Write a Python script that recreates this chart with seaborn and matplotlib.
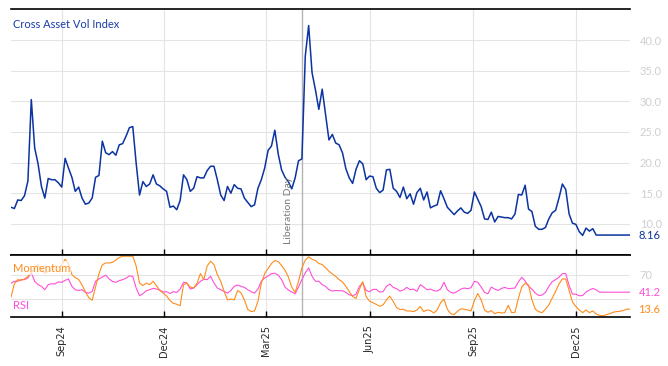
import numpy as np
import pandas as pd
import matplotlib
matplotlib.use("Agg")
import matplotlib.pyplot as plt
import matplotlib.dates as mdates
import seaborn as sns

# ---------------- data (3-day steps) ----------------
start_date = "2024-07-18"
n_points = 184

vol = [12.7, 12.5, 13.9, 13.8, 14.6, 17.0, 30.3, 22.4, 19.8, 16.1,
       14.2, 17.4, 17.2, 17.2, 16.7, 16.0, 20.7, 19.1, 17.6, 15.3,
       16.0, 14.2, 13.2, 13.4, 14.2, 17.6, 17.9, 23.5, 21.6, 21.3,
       21.8, 21.2, 22.9, 23.1, 24.3, 25.7, 25.9, 19.9, 14.7, 16.9,
       16.1, 16.5, 18.0, 16.5, 16.2, 15.7, 15.3, 12.7, 12.9, 12.3,
       13.8, 18.0, 17.2, 15.3, 15.8, 17.7, 17.5, 17.5, 18.7, 19.4,
       19.4, 17.2, 14.7, 13.8, 16.1, 15.0, 16.4, 15.8, 15.7, 14.2,
       13.5, 12.8, 13.1, 15.8, 17.2, 19.1, 22.0, 22.7, 25.3, 21.4,
       18.8, 17.6, 16.9, 15.7, 17.5, 20.3, 20.6, 37.4, 42.4, 34.7,
       31.9, 28.7, 32.0, 27.8, 23.7, 24.6, 23.2, 22.9, 21.6, 19.0,
       17.5, 16.6, 18.9, 20.3, 19.8, 17.2, 17.8, 17.7, 15.8, 15.1,
       15.5, 18.8, 18.9, 15.8, 15.3, 14.3, 16.0, 14.1, 14.9, 13.2,
       15.1, 15.8, 13.9, 15.2, 12.6, 12.9, 13.1, 15.4, 14.1, 12.7,
       12.1, 11.5, 12.1, 12.6, 11.9, 11.7, 12.2, 15.2, 14.0, 12.8,
       10.8, 10.7, 11.9, 10.3, 11.2, 11.1, 11.0, 11.0, 10.8, 11.6,
       14.8, 14.7, 16.3, 12.4, 12.0, 9.6, 9.1, 9.1, 9.4, 10.8,
       11.8, 12.2, 14.2, 16.5, 15.6, 11.6, 10.1, 9.9, 8.7, 8.1,
       9.3, 8.8, 9.2, 8.16, 8.16, 8.16, 8.16, 8.16, 8.16, 8.16,
       8.16, 8.16, 8.16, 8.16]

momentum = [33, 55, 61.7, 60.6, 62.8, 67, 73, 81, 86.5, 78,
            72, 75, 80, 84, 82, 86, 95, 88, 70, 65,
            62, 53, 42, 32, 28, 50, 71, 86, 89, 89,
            90, 93.7, 98, 100, 100, 100, 100, 84, 56, 52,
            56, 53.5, 59, 52, 44, 39.7, 35, 27.6, 23, 21.5,
            19, 53.5, 56, 49.6, 48, 56, 71.6, 61.7, 84, 92,
            86.5, 70, 59, 42.5, 28.7, 30, 28.7, 44, 40, 28.7,
            13, 9.4, 10.5, 26, 56, 71.6, 80, 88, 93, 91,
            85, 77, 66, 49.6, 40.8, 59, 81, 93.7, 99, 95,
            93, 88, 86.5, 81, 75.5, 71, 67, 61.7, 58, 50.7,
            42.5, 34, 31, 46, 58.4, 34, 26.5, 24, 21, 18.2,
            20.4, 28.7, 34.7, 26, 16, 12.7, 13.3, 10.5, 10.5, 9.4,
            12.1, 17.7, 9.4, 12.1, 11, 7.2, 12.1, 24, 29.8, 13.3,
            6, 4.4, 10, 14, 13.3, 12.1, 10.5, 27.6, 39, 28.7,
            12.1, 8.3, 11, 6, 8.3, 7.2, 7.7, 19.9, 7.7, 8.3,
            31.4, 49.6, 55.7, 53, 28.7, 13.3, 9.4, 7.7, 13.3, 20.4,
            31.4, 42.5, 54.6, 62.8, 62.8, 44, 25, 17.7, 12.1, 7.7,
            12.1, 7.7, 10.5, 5.5, 3.3, 2.8, 4.4, 6, 8.3, 9.4,
            10, 11, 13.3, 13.6]

rsi = [56, 59, 59, 61.7, 61.7, 64.5, 72.8, 59, 53.5, 50.7,
       45.2, 53.5, 55, 54.6, 58, 57.3, 60.6, 62.8, 50.7, 45.2,
       44, 45.2, 40.8, 39.7, 42.5, 59, 62.8, 66, 69, 62.8,
       59, 57.3, 60, 61.7, 64, 67.8, 67.2, 48, 35.3, 38.6,
       43.6, 45.2, 47.4, 46.3, 44.7, 41.4, 42, 39.1, 42, 40.8,
       46.3, 57.3, 56.2, 46.3, 48, 53.5, 59, 62.3, 61.7, 67.2,
       56.2, 48, 45.2, 42.5, 39.7, 44, 50.7, 53, 50.7, 49,
       45.2, 42, 39.7, 46.3, 59, 64.5, 67.8, 71.6, 72.2, 69,
       61.7, 49.6, 44.7, 41.4, 38.6, 49.6, 61.7, 72.8, 81, 67.2,
       59, 59, 53.5, 50.7, 45.2, 43, 44, 43.6, 43.6, 40.8,
       37, 35.3, 38, 50.7, 56.2, 44, 42, 45.8, 45.8, 41.4,
       42, 50.7, 54.6, 49, 46.9, 43, 44.7, 49, 45.2, 46.3,
       42.5, 53.5, 49.6, 45.2, 46.3, 43.6, 43, 46.3, 57.3, 45.2,
       40.8, 39.7, 42.5, 46.3, 48, 46.9, 48.5, 59, 57.3, 49.6,
       40.8, 38.6, 49.6, 46.3, 44, 47.4, 49, 46.9, 47.4, 48,
       58, 65.6, 59.5, 50.7, 46.3, 39.7, 35.8, 36.4, 40.8, 50.7,
       58.4, 61.7, 65.6, 71.6, 71.6, 51.8, 38, 38, 35.3, 35.8,
       41.4, 44.7, 47.4, 45.0, 41.2, 41.2, 41.2, 41.2, 41.2, 41.2,
       41.2, 41.2, 41.2, 41.2]

title = "Cross Asset Vol Index"
event_date = "2025-04-02"
event_label = "Liberation Day"
vol_ticks = [10, 15, 20, 25, 30, 35, 40]
osc_ticks = [30, 70]
osc_tick_labels = ["", "70"]   # the "30" label is hidden behind the last-value box
mom_label = "Momentum"
rsi_label = "RSI"

# ---------------- style ----------------
BLUE = "#0b33a2"
ORANGE = "#ff8c1a"
PINK = "#ff4fd8"
GRID = "#e4e4e4"
TICKLAB = "#cfcfcf"

sns.set_style("white")
plt.rcParams["font.family"] = ["DejaVu Sans"]

dates = pd.date_range(start_date, periods=n_points, freq="3D")
df = pd.DataFrame({"date": dates, "vol": vol, "mom": momentum, "rsi": rsi})

W, H = 668, 366
fig = plt.figure(figsize=(W / 100, H / 100), dpi=100)
ax1 = fig.add_axes([11 / W, 1 - 255 / H, 619 / W, 246 / H])
ax2 = fig.add_axes([11 / W, 1 - 317 / H, 619 / W, 62 / H], sharex=ax1)

sns.lineplot(data=df, x="date", y="vol", ax=ax1, color=BLUE, lw=1.1)
sns.lineplot(data=df, x="date", y="rsi", ax=ax2, color=PINK, lw=0.8)
sns.lineplot(data=df, x="date", y="mom", ax=ax2, color=ORANGE, lw=0.8)

ev = pd.Timestamp(event_date)
for ax in (ax1, ax2):
    ax.axvline(ev, color="#b4b4b4", lw=1.0, zorder=1)
    ax.set_xlabel("")
    ax.set_ylabel("")
    ax.spines["left"].set_visible(False)
    ax.spines["right"].set_visible(False)
    for s in ("top", "bottom"):
        ax.spines[s].set_color("black")
        ax.spines[s].set_linewidth(1.2)
    ax.grid(True, color=GRID, lw=0.8)
    ax.set_axisbelow(True)
    ax.yaxis.tick_right()
    ax.tick_params(axis="y", length=0, labelcolor=TICKLAB, labelsize=8, pad=7)

ax1.set_xlim(dates[0], dates[-1])
ax1.xaxis.set_major_locator(mdates.MonthLocator(bymonth=[3, 6, 9, 12]))
ax1.xaxis.set_major_formatter(mdates.DateFormatter("%b%y"))

ax1.set_ylim(4.9, 45.1)
ax1.set_yticks(vol_ticks)
ax1.set_yticklabels([f"{v:.1f}" for v in vol_ticks], family="Lato")
ax1.tick_params(axis="x", direction="in", length=4, width=1, color="black",
                labelbottom=False, bottom=True, top=False)

ax2.set_ylim(0.6, 102)
ax2.set_yticks(osc_ticks)
ax2.set_yticklabels(osc_tick_labels, family="Lato")
ax2.tick_params(axis="x", direction="in", length=4, width=1, color="black",
                labelsize=7, rotation=90, pad=6, bottom=True, top=False)

# title
ax1.text(0.003, 0.935, title, transform=ax1.transAxes, color="#1a3da8",
         fontsize=8, family="Lato", ha="left", va="center")

# event label
ax1.annotate(event_label, xy=(ev, 0.045), xycoords=("data", "axes fraction"),
             xytext=(-9.5, 0), textcoords="offset points", rotation=90,
             ha="center", va="bottom", fontsize=7.5, color="#7a7a7a", family="Lato")

# last-value labels
def last_label(ax, val, text, color):
    ax.annotate(text, xy=(1, val), xycoords=("axes fraction", "data"),
                xytext=(6, 0), textcoords="offset points", ha="left", va="center",
                fontsize=8, color=color, family="Lato",
                bbox=dict(boxstyle="square,pad=0.1", fc="white", ec="none"),
                annotation_clip=False)

last_label(ax1, vol[-1], f"{vol[-1]:.2f}", BLUE)
last_label(ax2, rsi[-1], f"{rsi[-1]:.1f}", PINK)
last_label(ax2, momentum[-1], f"{momentum[-1]:.1f}", ORANGE)

# panel labels
ax2.text(0.003, 0.79, mom_label, transform=ax2.transAxes, color=ORANGE, fontsize=8,
         family="Lato", ha="left", va="center",
         bbox=dict(boxstyle="square,pad=0.1", fc="white", ec="none", alpha=0.7))
ax2.text(0.003, 0.18, rsi_label, transform=ax2.transAxes, color=PINK, fontsize=8,
         family="Lato", ha="left", va="center")

fig.savefig("out.png", dpi=100)
